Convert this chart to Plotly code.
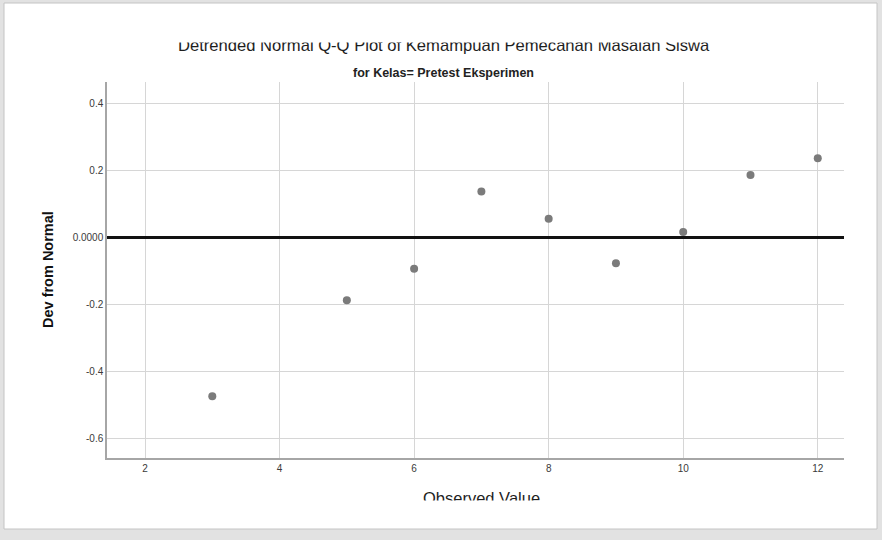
import plotly.graph_objects as go

# Detrended normal Q-Q data: observed value vs deviation from normal
observed = [3, 5, 6, 7, 8, 9, 10, 11, 12]
deviation = [-0.473, -0.187, -0.093, 0.137, 0.056, -0.077, 0.016, 0.186, 0.236]

x_ticks = [2, 4, 6, 8, 10, 12]
y_ticks = [-0.6, -0.4, -0.2, 0.0, 0.2, 0.4]
y_tick_text = ["-0.6", "-0.4", "-0.2", "0.0000", "0.2", "0.4"]

title_text = "Detrended Normal Q-Q Plot of Kemampuan Pemecahan Masalah Siswa"
subtitle_text = "for Kelas= Pretest Eksperimen"
x_title = "Observed Value"
y_title = "Dev from Normal"

W, H = 882, 540
L, R, T, B = 107, 38, 82, 82
pw, ph = W - L - R, H - T - B


def px_x(px):
    return (px - L) / pw


def px_y(py):
    return (H - B - py) / ph


narrow = "Liberation Sans Narrow, Arial Narrow, Liberation Sans, Arial, sans-serif"
sans = "Liberation Sans, Arial, sans-serif"

fig = go.Figure()
fig.add_trace(go.Scatter(
    x=observed, y=deviation, mode="markers",
    marker=dict(size=8, color="#7b7b7b"),
    showlegend=False, hoverinfo="x+y",
))

# the exported chart is cropped: the title's top and the x title's bottom are cut
crop_top = dict(text=" ", xref="paper", yref="paper",
                x=px_x(443), y=px_y(24.5), xanchor="center", yanchor="middle",
                width=640, height=36, bgcolor="white", borderpad=0,
                showarrow=False)
crop_bottom = dict(text=" ", xref="paper", yref="paper",
                   x=px_x(480), y=px_y(514), xanchor="center", yanchor="middle",
                   width=300, height=26, bgcolor="white", borderpad=0,
                   showarrow=False)

fig.update_layout(
    width=W, height=H,
    margin=dict(l=L, r=R, t=T, b=B),
    paper_bgcolor="#e2e2e2",
    plot_bgcolor="white",
    showlegend=False,
    xaxis=dict(
        range=[1.435, 12.39], tickvals=x_ticks, ticks="",
        showgrid=True, gridcolor="#d6d6d6", gridwidth=1,
        showline=True, linecolor="#a6a6a6", linewidth=1.5,
        zeroline=False,
        tickfont=dict(family=narrow, size=10, color="#3a3a3a"),
    ),
    yaxis=dict(
        range=[-0.657, 0.463], tickvals=y_ticks, ticktext=y_tick_text, ticks="",
        showgrid=True, gridcolor="#d6d6d6", gridwidth=1,
        showline=True, linecolor="#a6a6a6", linewidth=1.5,
        zeroline=True, zerolinecolor="#111111", zerolinewidth=3,
        tickfont=dict(family=narrow, size=10, color="#3a3a3a"),
    ),
    shapes=[
        # white page panel with a soft grey frame
        dict(type="rect", xref="paper", yref="paper", layer="below",
             x0=px_x(4), x1=px_x(877), y0=px_y(529), y1=px_y(3),
             fillcolor="white", line=dict(color="#c4c4c4", width=1)),
    ],
    annotations=[
        dict(text=title_text, xref="paper", yref="paper",
             x=px_x(443.5), y=px_y(45.5), xanchor="center", yanchor="middle",
             showarrow=False, font=dict(family=sans, size=16.6, color="#1e1e1e")),
        dict(text="<b>" + subtitle_text + "</b>", xref="paper", yref="paper",
             x=px_x(443.5), y=px_y(73), xanchor="center", yanchor="middle",
             showarrow=False, font=dict(family=narrow, size=12.5, color="#222")),
        dict(text="<b>" + y_title + "</b>", xref="paper", yref="paper",
             x=px_x(48), y=px_y(270), xanchor="center", yanchor="middle",
             textangle=-90, showarrow=False,
             font=dict(family=sans, size=14.5, color="#111")),
        dict(text=x_title, xref="paper", yref="paper",
             x=px_x(481), y=px_y(498), xanchor="center", yanchor="middle",
             showarrow=False, font=dict(family=sans, size=16.5, color="#1e1e1e")),
        crop_top,
        crop_bottom,
    ],
)

fig.write_html("out.html")
